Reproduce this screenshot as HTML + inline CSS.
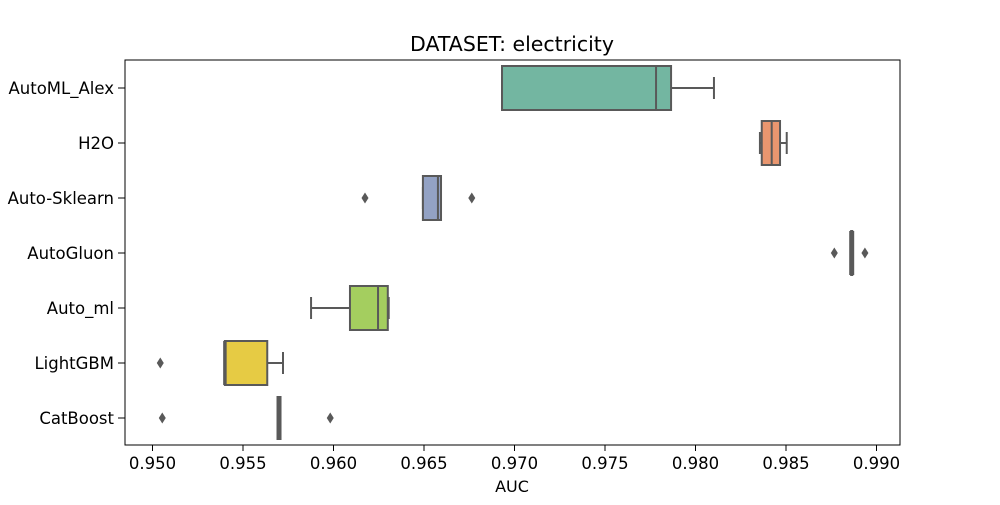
<!DOCTYPE html>
<html><head><meta charset="utf-8"><style>
body{margin:0;background:#fff;}
svg text{font-family:"DejaVu Sans","Liberation Sans",sans-serif;fill:#000;}
</style></head><body>
<svg id="chart" width="1000" height="500" xmlns="http://www.w3.org/2000/svg">
<text x="512" y="51" font-size="20.5" text-anchor="middle">DATASET: electricity</text>
<g id="marks"></g>
<rect x="125" y="60" width="775" height="385" fill="none" stroke="#000" stroke-width="1"/>
<g id="xticks"></g><g id="yticks"></g>
<text x="512" y="492" font-size="16" text-anchor="middle">AUC</text>
</svg>
<script>
const categories=["AutoML_Alex","H2O","Auto-Sklearn","AutoGluon","Auto_ml","LightGBM","CatBoost"];
const colors=["#73b6a1","#e9966f","#93a2c4","#d993c0","#a4ce5f","#e6cb44","#b3b3b3"];
const whiskerLow=[0.96931,0.98356,0.96494,0.98863,0.95876,0.9540,0.95699];
const q1=[0.96931,0.98366,0.96494,0.98860,0.96091,0.9540,0.95699];
const median=[0.97782,0.98421,0.96577,0.98863,0.96246,0.9540,0.95699];
const q3=[0.97865,0.98467,0.96594,0.98866,0.9630,0.95634,0.95699];
const whiskerHigh=[0.98102,0.98504,0.96594,0.98866,0.96305,0.95721,0.95699];
const outliers=[[],[],[0.96174,0.96764],[0.98767,0.98936],[],[0.95043],[0.95054,0.95982]];
const xTicks=[0.950,0.955,0.960,0.965,0.970,0.975,0.980,0.985,0.990];
const NS="http://www.w3.org/2000/svg";
const x=v=>152.5+(v-0.95)*18100;
const yc=i=>88+i*55;
const mk=(t,a,p)=>{const e=document.createElementNS(NS,t);for(const k in a)e.setAttribute(k,a[k]);p.appendChild(e);return e;};
const marks=document.getElementById('marks'),xt=document.getElementById('xticks'),yt=document.getElementById('yticks');
const LC="#595959",SW=2;
categories.forEach((c,i)=>{
 const y=yc(i),h=44;
 const g=mk('g',{},marks);
 
 
 mk('line',{x1:x(whiskerLow[i]),x2:x(q1[i]),y1:y,y2:y,stroke:LC,'stroke-width':SW},g);
 mk('line',{x1:x(q3[i]),x2:x(whiskerHigh[i]),y1:y,y2:y,stroke:LC,'stroke-width':SW},g);
 mk('line',{x1:x(whiskerLow[i]),x2:x(whiskerLow[i]),y1:y-11,y2:y+11,stroke:LC,'stroke-width':SW},g);
 mk('line',{x1:x(whiskerHigh[i]),x2:x(whiskerHigh[i]),y1:y-11,y2:y+11,stroke:LC,'stroke-width':SW},g);
 const w=Math.max(x(q3[i])-x(q1[i]),0);
 mk('rect',{x:x(q1[i]),y:y-h/2,width:w,height:h,fill:colors[i],stroke:LC,'stroke-width':SW},g);
 mk('line',{x1:x(median[i]),x2:x(median[i]),y1:y-h/2,y2:y+h/2,stroke:LC,'stroke-width':w<3?5:(median[i]===q1[i]?3.5:SW)},g);
 outliers[i].forEach(o=>{
  const d=mk('path',{d:`M${x(o)},${y-5.5}L${x(o)+3.5},${y}L${x(o)},${y+5.5}L${x(o)-3.5},${y}Z`,fill:LC},g);
  
  
 });
 mk('line',{x1:118,x2:125,y1:y,y2:y,stroke:'#000'},yt);
 const t=mk('text',{x:114,y:y+6,'font-size':16.5,'text-anchor':'end'},yt);
 t.textContent=c;
 
 
});
xTicks.forEach(v=>{
 mk('line',{x1:x(v),x2:x(v),y1:445,y2:451,stroke:'#000'},xt);
 const t=mk('text',{x:x(v),y:469,'font-size':16.5,'text-anchor':'middle'},xt);
 t.textContent=v.toFixed(3);
 
 
});
</script>
</body></html>
